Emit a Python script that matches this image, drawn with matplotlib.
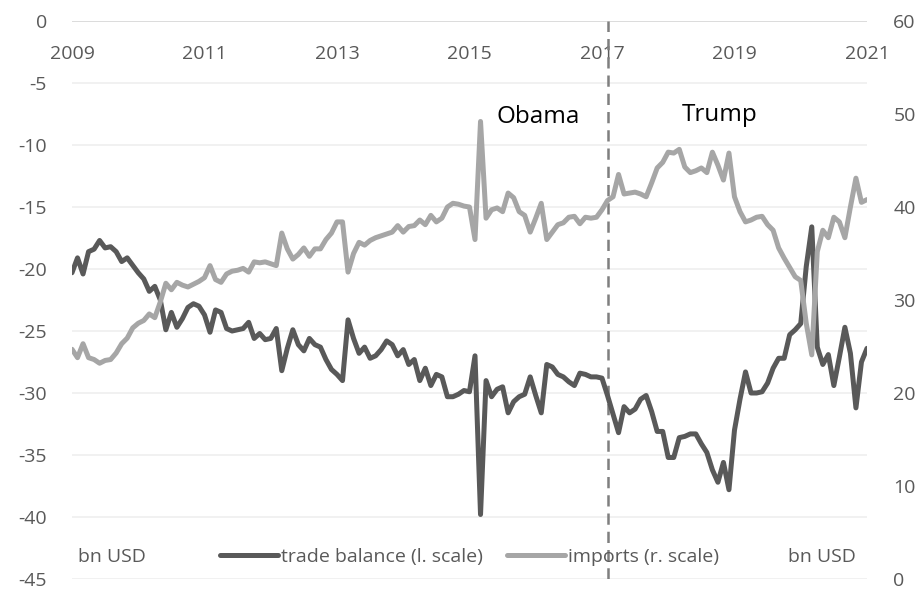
import numpy as np
import matplotlib
matplotlib.use("Agg")
import matplotlib.pyplot as plt
from matplotlib.ticker import FixedLocator, FuncFormatter

plt.rcParams['font.family'] = ['Open Sans', 'DejaVu Sans']
plt.rcParams['axes.unicode_minus'] = False

# monthly US trade data, Jan 2009 - Jan 2021 (bn USD)
start_year = 2009
trade_balance = [
    -20.3, -19.1, -20.4, -18.6, -18.4, -17.7, -18.3, -18.2, -18.6, -19.4,
    -19.1, -19.7, -20.3, -20.8, -21.8, -21.4, -22.5, -24.9, -23.5, -24.7,
    -24.0, -23.1, -22.8, -23.0, -23.7, -25.1, -23.3, -23.5, -24.8, -25.0,
    -24.9, -24.8, -24.3, -25.6, -25.2, -25.7, -25.6, -24.8, -28.2, -26.4,
    -24.9, -26.1, -26.6, -25.6, -26.1, -26.3, -27.3, -28.1, -28.5, -29.0,
    -24.1, -25.6, -26.8, -26.3, -27.2, -27.0, -26.5, -25.8, -26.1, -27.0,
    -26.5, -27.7, -27.3, -29.0, -28.0, -29.4, -28.5, -28.7, -30.3, -30.3,
    -30.1, -29.8, -29.9, -27.0, -39.8, -29.0, -30.3, -29.7, -29.5, -31.6,
    -30.7, -30.3, -30.1, -28.7, -30.2, -31.6, -27.7, -27.9, -28.5, -28.7,
    -29.1, -29.4, -28.4, -28.5, -28.7, -28.7, -28.8, -30.2, -31.7, -33.2,
    -31.1, -31.6, -31.3, -30.5, -30.2, -31.5, -33.1, -33.1, -35.2, -35.2,
    -33.6, -33.5, -33.3, -33.3, -34.1, -34.8, -36.2, -37.2, -35.6, -37.8,
    -33.0, -30.5, -28.3, -30.0, -30.0, -29.9, -29.2, -28.0, -27.2, -27.2,
    -25.3, -24.9, -24.4, -19.8, -16.6, -26.3, -27.7, -26.9, -29.4, -27.1,
    -24.7, -26.8, -31.2, -27.5, -26.4,
]
imports = [
    24.7, 23.8, 25.3, 23.8, 23.6, 23.2, 23.5, 23.6, 24.3, 25.3,
    25.9, 27.0, 27.5, 27.8, 28.5, 28.1, 29.8, 31.8, 31.1, 31.9,
    31.6, 31.4, 31.7, 32.0, 32.4, 33.7, 32.2, 31.9, 32.8, 33.1,
    33.2, 33.4, 33.0, 34.1, 34.0, 34.1, 33.9, 33.7, 37.2, 35.5,
    34.4, 34.9, 35.6, 34.7, 35.5, 35.5, 36.5, 37.2, 38.4, 38.4,
    33.0, 35.0, 36.2, 35.9, 36.4, 36.7, 36.9, 37.1, 37.3, 38.0,
    37.3, 37.9, 38.0, 38.6, 38.1, 39.1, 38.4, 38.8, 40.0, 40.4,
    40.3, 40.1, 40.0, 36.5, 49.2, 38.8, 39.7, 39.9, 39.5, 41.5,
    41.0, 39.5, 39.1, 37.3, 38.8, 40.4, 36.5, 37.3, 38.1, 38.3,
    38.9, 39.0, 38.2, 38.9, 38.8, 38.9, 39.7, 40.7, 41.1, 43.5,
    41.4, 41.5, 41.6, 41.4, 41.1, 42.6, 44.2, 44.8, 45.9, 45.8,
    46.2, 44.3, 43.7, 43.9, 44.2, 43.7, 45.9, 44.5, 42.9, 45.8,
    41.1, 39.5, 38.4, 38.6, 38.9, 39.0, 38.1, 37.5, 35.6, 34.5,
    33.5, 32.5, 32.1, 27.5, 24.1, 35.2, 37.5, 36.7, 38.9, 38.4,
    36.7, 40.0, 43.1, 40.5, 40.8,
]
year_ticks = [2009, 2011, 2013, 2015, 2017, 2019, 2021]
left_ticks = [0, -5, -10, -15, -20, -25, -30, -35, -40, -45]
right_ticks = [0, 10, 20, 30, 40, 50, 60]
trump_start_month = 97  # months after Jan 2009

dates = start_year + np.arange(len(trade_balance)) / 12.0

dark = '#595959'
light = '#A6A6A6'
label_col = '#595959'

fig = plt.figure(figsize=(9.23, 5.89), dpi=100)
ax = fig.add_axes([0.078, 0.017, 0.8613, 0.9473])
ax2 = ax.twinx()

ax.set_xlim(2009, 2021)
ax.set_ylim(-45, 0)
ax2.set_ylim(0, 60)

for a in (ax, ax2):
    for s in a.spines.values():
        s.set_visible(False)

# horizontal gridlines every 5 on the left scale
for v in left_ticks:
    col = '#D9D9D9' if v == 0 else '#F0F0F0'
    ax.axhline(v, color=col, lw=1.3, zorder=0)

# x axis sits at zero, i.e. the top of the plot
ax.spines['bottom'].set_position(('data', 0))
ax.xaxis.set_major_locator(FixedLocator(year_ticks))
ax.xaxis.set_major_formatter(FuncFormatter(lambda v, p: f"{int(round(v))}"))
ax.tick_params(axis='x', length=0, pad=17, labelsize=14, labelcolor=label_col)

ax.yaxis.set_major_locator(FixedLocator(left_ticks))
ax.yaxis.set_major_formatter(FuncFormatter(lambda v, p: f"{int(round(v))}"))
ax.tick_params(axis='y', length=0, pad=18, labelsize=14, labelcolor=label_col)

ax2.yaxis.set_major_locator(FixedLocator(right_ticks))
ax2.yaxis.set_major_formatter(FuncFormatter(lambda v, p: f"{int(round(v))}"))
ax2.tick_params(axis='y', length=0, pad=19, labelsize=14, labelcolor=label_col)

l1, = ax.plot(dates, trade_balance, color=dark, lw=3.6,
              solid_joinstyle='round', solid_capstyle='round', zorder=3,
              label='trade balance (l. scale)')
l2, = ax2.plot(dates, imports, color=light, lw=3.6,
               solid_joinstyle='round', solid_capstyle='round', zorder=3,
               label='imports (r. scale)')

# start of the Trump administration
ax.axvline(start_year + trump_start_month / 12.0, color='#7F7F7F', lw=1.8,
           dashes=(4.5, 2.8), zorder=2)

ax2.text(0.586, 0.828, 'Obama', transform=ax.transAxes, ha='center',
         va='center', fontsize=17.5, color='black')
ax2.text(0.815, 0.832, 'Trump', transform=ax.transAxes, ha='center',
         va='center', fontsize=17.5, color='black')

ax2.text(0.008, 0.04, 'bn USD', transform=ax.transAxes, ha='left',
         va='center', fontsize=14, color=label_col)
ax2.text(0.986, 0.04, 'bn USD', transform=ax.transAxes, ha='right',
         va='center', fontsize=14, color=label_col)

leg = ax2.legend(handles=[l1, l2], loc='center', bbox_to_anchor=(0.5, 0.04),
                 ncol=2, frameon=False, fontsize=14, handlelength=3.0,
                 handletextpad=0.15, columnspacing=1.2, borderaxespad=0)
for t in leg.get_texts():
    t.set_color(label_col)

fig.savefig('out.png', dpi=100)
